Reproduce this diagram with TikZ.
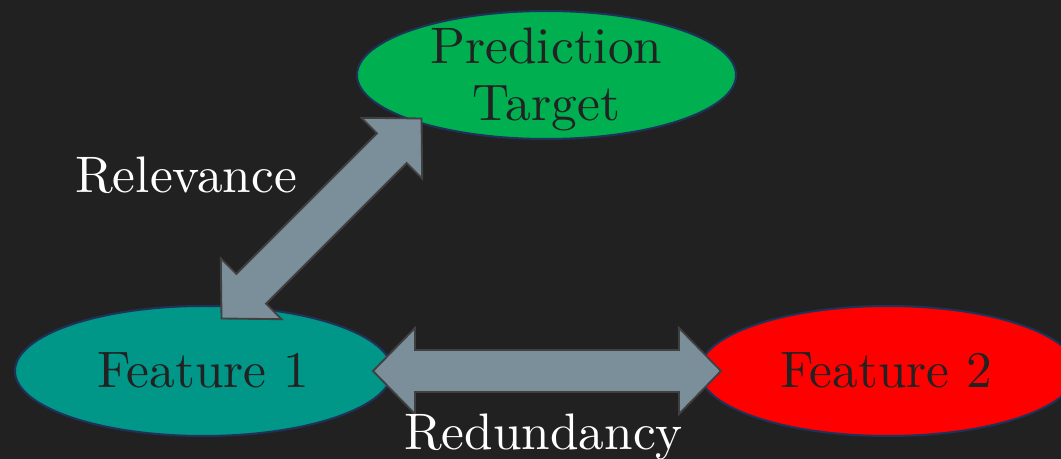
\documentclass[tikz,border=0pt]{standalone}
\usepackage{fontspec}
\setmainfont{lmroman10-regular}[Extension=.otf]
\usetikzlibrary{calc,shapes.geometric}
\definecolor{bg}{RGB}{33,33,33}
\definecolor{predgreen}{RGB}{0,176,80}
\definecolor{featteal}{RGB}{0,150,136}
\definecolor{featred}{RGB}{255,0,0}
\definecolor{ellline}{RGB}{31,50,90}
\definecolor{arrfill}{RGB}{122,143,154}
\definecolor{arrline}{RGB}{64,64,64}
\definecolor{darktext}{RGB}{34,34,34}
\def\ahl{31.5pt}
\def\ahw{32.25pt}
\def\asw{15.75pt}
\newcommand\dblarrow[2]{%
  \coordinate (a1) at ($(#1)!\ahl!(#2)$);
  \coordinate (b1) at ($(#2)!\ahl!(#1)$);
  \draw[blk] (#1) -- ($(a1)!\ahw!90:(#2)$) -- ($(a1)!\asw!90:(#2)$)
    -- ($(b1)!\asw!90:(#2)$) -- ($(b1)!\ahw!90:(#2)$) -- (#2)
    -- ($(b1)!\ahw!-90:(#2)$) -- ($(b1)!\asw!-90:(#2)$)
    -- ($(a1)!\asw!-90:(#2)$) -- ($(a1)!\ahw!-90:(#2)$) -- cycle;}
\tikzset{
  ell/.style={ellipse, draw=ellline, line width=1.5pt, inner sep=0pt, outer sep=0pt},
  blk/.style={fill=arrfill, draw=arrline, line width=1.4pt, line join=miter},
  intext/.style={text=darktext, inner sep=0pt, font=\fontsize{38.5}{42.75}\selectfont},
  outtext/.style={text=white, inner sep=0pt, font=\fontsize{38.5}{42.75}\selectfont}
}
\begin{document}
\begin{tikzpicture}[x=0.75pt,y=-0.75pt]
\fill[bg] (0,0) rectangle (1061,459);
\useasboundingbox (0,0) rectangle (1061,459);
\node[ell, fill=predgreen, minimum width=284.25pt, minimum height=96pt] (pt) at (546.5,75) {};
\node[ell, fill=featteal, minimum width=282.75pt, minimum height=97.5pt] (f1) at (203.5,371) {};
\node[ell, fill=featred, minimum width=282.75pt, minimum height=97.5pt] (f2) at (888,371) {};
\node[intext, align=center] (ptt) at (546.5,79.5) {Prediction\\Target};
\node[intext, anchor=base] (f1t) at (203.5,388) {Feature 1};
\node[intext, anchor=base] (f2t) at (886.5,388) {Feature 2};
\coordinate (rt) at (421.5,118.5);
\coordinate (rb) at (221.5,318.5);
\coordinate (hl) at (373,371);
\coordinate (hr) at (721,371);
\dblarrow{rt}{rb}
\dblarrow{hl}{hr}
\node[outtext, anchor=base] (rel) at (186,193) {Relevance};
\node[outtext, anchor=base] (red) at (543.5,450) {Redundancy};
\end{tikzpicture}
\end{document}
